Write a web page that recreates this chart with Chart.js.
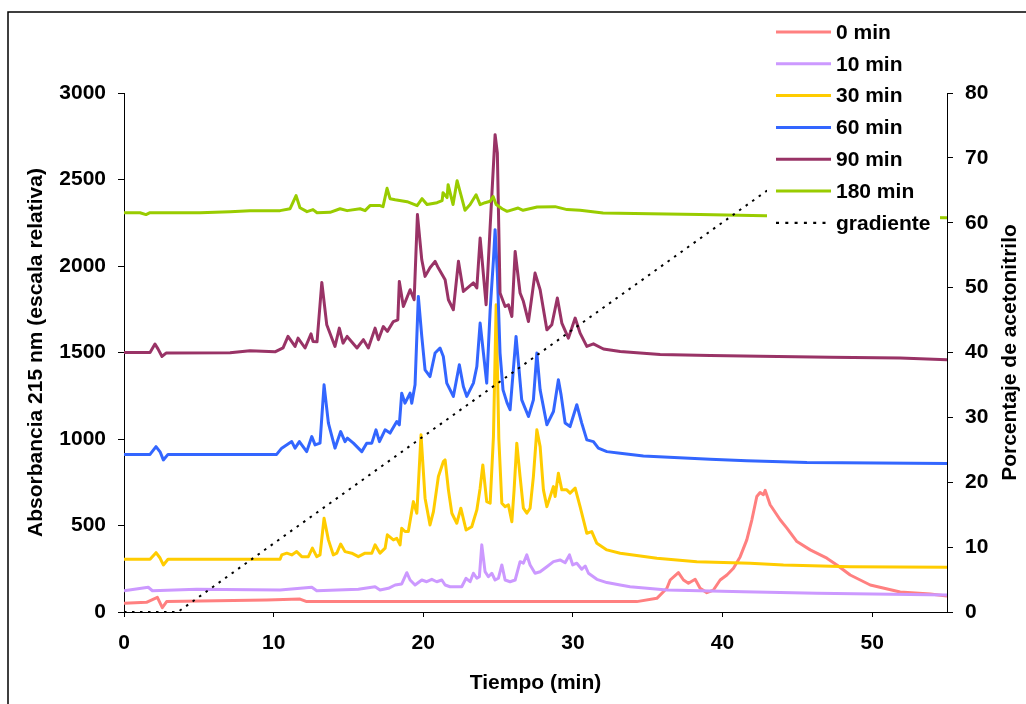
<!DOCTYPE html>
<html>
<head>
<meta charset="utf-8">
<script src="https://cdn.jsdelivr.net/npm/chart.js@4.4.0/dist/chart.umd.min.js"></script>
<style>
  html, body { margin: 0; padding: 0; background: #fff; }
  canvas { display: block; }
</style>
</head>
<body>
<canvas id="chart" width="1026" height="704"></canvas>
<script>
const FONT = "'Liberation Sans', Arial, Helvetica, sans-serif";

// ticks de los ejes
const xTicks = [0, 10, 20, 30, 40, 50];
const yTicks = [0, 500, 1000, 1500, 2000, 2500, 3000];
const y1Ticks = [0, 10, 20, 30, 40, 50, 60, 70, 80];

// 0 min
const t0 = [0, 1.5, 2.23, 2.56, 2.85, 9.54, 11.76, 12.21, 34.27, 35.61,
  36.28, 36.50, 37.05, 37.39, 37.72, 38.17, 38.50, 38.95, 39.39, 39.84,
  40.29, 40.73, 41.18, 41.62, 41.96, 42.29, 42.51, 42.73, 42.85, 43.18,
  43.85, 44.30, 44.97, 45.86, 46.97, 47.64, 48.53, 49.87, 51.87, 53.88, 55];
const y0 = [50, 56, 85, 25, 60, 70, 75, 60, 60, 79,
  137, 185, 228, 185, 166, 189, 137, 112, 127, 185,
  214, 253, 320, 417, 533, 668, 691, 678, 703, 620,
  533, 485, 407, 359, 311, 272, 214, 156, 116, 104, 93];

// 10 min
const t10 = [0, 1.62, 1.9, 4.86, 10.43, 12.55, 12.88, 15.66, 16.78, 17.11,
  17.67, 18.12, 18.56, 18.90, 19.12, 19.45, 19.90, 20.23, 20.57, 20.90,
  21.24, 21.46, 21.79, 22.57, 22.86, 23.13, 23.35, 23.58, 23.75, 23.91,
  24.13, 24.35, 24.58, 24.80, 25.02, 25.25, 25.47, 25.80, 26.14, 26.47,
  26.69, 26.92, 27.14, 27.47, 27.81, 28.26, 28.70, 29.14, 29.48, 29.77,
  29.99, 30.26, 30.59, 30.82, 31.04, 31.60, 32.27, 33.16, 33.82, 36.28,
  41.40, 46.30, 55];
const y10 = [123, 143, 123, 131, 127, 143, 123, 131, 146, 127,
  137, 156, 162, 227, 185, 156, 185, 175, 189, 175,
  185, 156, 146, 146, 195, 175, 224, 195, 204, 388,
  233, 204, 224, 185, 195, 272, 185, 175, 185, 291,
  282, 330, 272, 224, 233, 262, 291, 301, 285, 330,
  272, 282, 247, 266, 224, 189, 170, 156, 146, 127,
  117, 108, 98];

// 30 min
const t30 = [0, 1.74, 2.14, 2.41, 2.63, 2.94, 10.43, 10.54, 10.88, 11.21,
  11.54, 11.88, 12.32, 12.59, 12.88, 13.10, 13.37, 13.66, 13.99, 14.22,
  14.48, 14.77, 15.22, 15.66, 16.11, 16.56, 16.78, 17.11, 17.45, 17.60,
  18.00, 18.23, 18.45, 18.56, 18.78, 19.00, 19.34, 19.57, 19.85, 20.12,
  20.45, 20.68, 21.01, 21.34, 21.46, 21.68, 21.91, 22.24, 22.51, 22.86,
  23.24, 23.58, 23.80, 23.98, 24.24, 24.47, 24.69, 24.87, 25.05, 25.25,
  25.47, 25.69, 25.92, 26.07, 26.25, 26.47, 26.69, 26.92, 27.14, 27.36,
  27.59, 27.81, 28.03, 28.26, 28.48, 28.70, 28.81, 29.03, 29.26, 29.59,
  29.81, 30.15, 30.48, 30.93, 31.26, 31.60, 32.27, 33.16, 35.61, 38.28,
  41.84, 44.07, 48.53, 55];
const y30 = [305, 305, 343, 312, 272, 305, 305, 330, 340, 330,
  349, 320, 320, 369, 320, 330, 542, 417, 330, 340,
  393, 349, 340, 320, 340, 340, 388, 340, 369, 446,
  417, 426, 388, 484, 465, 465, 638, 571, 1024, 658,
  503, 580, 783, 869, 879, 706, 571, 513, 600, 474,
  493, 590, 716, 850, 638, 629, 1014, 1776, 1000, 629,
  609, 619, 522, 706, 976, 783, 600, 571, 600, 783,
  1053, 956, 706, 609, 667, 725, 667, 802, 706, 706,
  687, 716, 609, 455, 465, 397, 359, 340, 311, 291,
  282, 272, 262, 258];

// 60 min
const t60 = [0, 1.74, 2.14, 2.41, 2.63, 2.94, 7.09, 10.2, 10.54, 11.21, 11.43,
  11.72, 12.21, 12.55, 12.77, 13.10, 13.37, 13.66, 14.10, 14.48, 14.77,
  14.93, 15.33, 15.89, 16.22, 16.56, 16.84, 17.07, 17.45, 17.78, 18.23,
  18.40, 18.56, 18.78, 19.12, 19.23, 19.45, 19.67, 19.90, 20.12, 20.45,
  20.79, 21.12, 21.34, 21.57, 22.01, 22.41, 22.68, 22.91, 23.35, 23.58,
  23.80, 24.02, 24.24, 24.47, 24.69, 24.80, 24.95, 25.13, 25.33, 25.60,
  25.80, 26.20, 26.36, 26.58, 27.03, 27.36, 27.59, 27.81, 28.26, 28.70,
  29.03, 29.21, 29.48, 29.81, 30.26, 30.59, 30.93, 31.37, 31.70, 32.27,
  33.16, 34.71, 39.17, 41.62, 45.64, 55];
const y60 = [911, 911, 956, 926, 879, 911, 911, 911, 947, 985, 947,
  985, 927, 1014, 966, 976, 1313, 1092, 947, 1043, 985,
  1005, 976, 927, 976, 976, 1053, 985, 1053, 1034, 1101,
  1082, 1265, 1207, 1265, 1207, 1313, 1824, 1593, 1400, 1361,
  1497, 1526, 1477, 1323, 1246, 1429, 1303, 1246, 1323, 1419,
  1670, 1497, 1323, 1747, 2036, 2210, 1959, 1497, 1284, 1209,
  1169, 1593, 1439, 1226, 1130, 1226, 1497, 1284, 1082, 1159,
  1342, 1255, 1092, 1072, 1198, 1092, 995, 985, 947, 927,
  918, 902, 883, 874, 864, 859];

// 90 min
const t90 = [0, 1.74, 2.07, 2.27, 2.54, 2.81, 7.09, 8.42, 10.09, 10.63,
  10.96, 11.43, 11.63, 12.10, 12.50, 12.63, 12.90, 13.22, 13.55, 14.10,
  14.39, 14.64, 14.91, 15.57, 16.00, 16.33, 16.78, 17.00, 17.33, 17.60,
  18.00, 18.30, 18.40, 18.67, 19.12, 19.39, 19.61, 19.90, 20.12, 20.45,
  20.79, 21.01, 21.46, 21.68, 22.01, 22.35, 22.68, 23.35, 23.58, 23.80,
  24.20, 24.47, 24.80, 24.95, 25.13, 25.47, 25.69, 25.92, 26.14, 26.47,
  26.69, 27.03, 27.47, 27.81, 28.26, 28.59, 28.96, 29.26, 29.70, 30.15,
  30.48, 30.93, 31.37, 32.04, 33.16, 35.83, 39.17, 42.51, 47.19, 51.87, 55];
const y90 = [1500, 1500, 1549, 1521, 1477, 1497, 1498, 1510, 1504, 1527,
  1593, 1535, 1583, 1526, 1608, 1564, 1562, 1905, 1660, 1535,
  1641, 1554, 1593, 1526, 1574, 1526, 1641, 1574, 1650, 1622,
  1679, 1689, 1911, 1766, 1863, 1805, 2297, 2036, 1940, 1990,
  2027, 1988, 1921, 1805, 1747, 2027, 1853, 1902, 1873, 2162,
  1776, 2229, 2759, 2654, 1844, 1766, 1776, 1708, 2084, 1844,
  1796, 1679, 1959, 1863, 1631, 1660, 1815, 1670, 1583, 1699,
  1612, 1535, 1550, 1520, 1506, 1489, 1483, 1479, 1473, 1468, 1458];

// 180 min
const t180 = [0, 1.07, 1.47, 1.74, 5.08, 7.09, 8.42, 10.43, 11.10, 11.50,
  11.76, 12.23, 12.63, 12.90, 13.77, 14.44, 14.91, 15.78, 16.11, 16.44,
  17.11, 17.31, 17.58, 17.78, 18.12, 18.92, 19.59, 19.92, 20.25, 20.92,
  21.26, 21.32, 21.59, 21.66, 21.99, 22.26, 22.53, 22.79, 23.13, 23.53,
  23.80, 24.13, 24.47, 24.67, 24.87, 25.27, 25.60, 26.34, 26.67, 27.61,
  28.81, 29.61, 30.48, 32.02, 35.16, 38.50, 42.85, 55];
const y180 = [2308, 2308, 2297, 2308, 2308, 2314, 2320, 2320, 2331, 2407,
  2337, 2314, 2326, 2308, 2310, 2331, 2320, 2331, 2320, 2349,
  2349, 2343, 2449, 2389, 2383, 2372, 2349, 2389, 2355, 2366,
  2378, 2424, 2395, 2470, 2355, 2493, 2407, 2322, 2355, 2412,
  2355, 2366, 2374, 2401, 2355, 2331, 2316, 2335, 2322, 2341,
  2343, 2326, 2322, 2307, 2302, 2297, 2291, 2279];

// gradiente (% acetonitrilo, eje derecho)
const tGrad = [0, 3.6, 45];
const yGrad = [0, 0, 68.3];

const series = [
  { label: "0 min",   t: t0,   y: y0,   color: "#ff8080" },
  { label: "10 min",  t: t10,  y: y10,  color: "#cc99ff" },
  { label: "30 min",  t: t30,  y: y30,  color: "#ffcc00" },
  { label: "60 min",  t: t60,  y: y60,  color: "#3366ff" },
  { label: "90 min",  t: t90,  y: y90,  color: "#993366" },
  { label: "180 min", t: t180, y: y180, color: "#99cc00" },
];

const pts = (t, y) => t.map((v, i) => ({ x: v, y: y[i] }));

// el primero queda al fondo, como en el original
const datasets = series.map((s, i) => ({
  label: s.label,
  data: pts(s.t, s.y),
  borderColor: s.color,
  borderWidth: 3,
  pointRadius: 0,
  yAxisID: "y",
  order: 10 - i,
}));
datasets.push({
  label: "gradiente",
  data: pts(tGrad, yGrad),
  borderColor: "#000",
  borderWidth: 2,
  borderDash: [2.5, 5.5],
  pointRadius: 0,
  yAxisID: "y1",
  order: 0,
});

const tickFont = { family: FONT, size: 21, weight: "bold" };
const setTicks = arr => scale => { scale.ticks = arr.map(v => ({ value: v })); };
const plain = v => String(v);

const decor = {
  id: "decor",
  beforeDraw(chart) {
    const ctx = chart.ctx;
    ctx.save();
    ctx.fillStyle = "#fff";
    ctx.fillRect(0, 0, chart.width, chart.height);
    ctx.strokeStyle = "#000";
    ctx.lineWidth = 1.5;
    ctx.strokeRect(8, 12, 1200, 900);
    ctx.restore();
  },
  afterDatasetsDraw(chart) {
    const ctx = chart.ctx;
    ctx.save();
    // caja blanca de la leyenda, tapa las lineas
    ctx.fillStyle = "#fff";
    ctx.fillRect(767, 16, 173, 222);
    const items = series.map(s => ({ label: s.label, color: s.color, dash: [] }));
    items.push({ label: "gradiente", color: "#000", dash: [3, 6.3] });
    ctx.font = "bold 21px " + FONT;
    ctx.textBaseline = "middle";
    ctx.textAlign = "left";
    items.forEach((it, i) => {
      const y = 32 + i * 31.8;
      ctx.beginPath();
      ctx.setLineDash(it.dash);
      ctx.strokeStyle = it.color;
      ctx.lineWidth = it.dash.length ? 2.2 : 3;
      ctx.moveTo(776, y);
      ctx.lineTo(831, y);
      ctx.stroke();
      ctx.setLineDash([]);
      ctx.fillStyle = "#000";
      ctx.fillText(it.label, 836, y + 1);
    });
    ctx.restore();
  },
  afterDraw(chart) {
    const ctx = chart.ctx;
    const a = chart.chartArea;
    const midY = (a.top + a.bottom) / 2;
    ctx.save();
    ctx.fillStyle = "#000";
    ctx.font = "bold 21px " + FONT;
    ctx.textAlign = "center";
    ctx.textBaseline = "middle";
    ctx.fillText("Tiempo (min)", (a.left + a.right) / 2, 683);
    ctx.translate(36, midY);
    ctx.rotate(-Math.PI / 2);
    ctx.fillText("Absorbancia 215 nm (escala relativa)", 0, 0);
    ctx.restore();
    ctx.save();
    ctx.fillStyle = "#000";
    ctx.font = "bold 21px " + FONT;
    ctx.textAlign = "center";
    ctx.textBaseline = "middle";
    ctx.translate(1010, midY);
    ctx.rotate(-Math.PI / 2);
    ctx.fillText("Porcentaje de acetonitrilo", 0, 0);
    ctx.restore();
  },
};

new Chart(document.getElementById("chart"), {
  type: "line",
  data: { datasets },
  options: {
    responsive: false,
    animation: false,
    devicePixelRatio: 1,
    layout: { padding: { top: 93, left: 0, right: 0, bottom: 0 } },
    plugins: { legend: { display: false }, tooltip: { enabled: false } },
    elements: { line: { tension: 0, borderJoinStyle: "round" } },
    scales: {
      x: {
        type: "linear",
        min: 0,
        max: 55,
        afterBuildTicks: setTicks(xTicks),
        afterFit: s => { s.height = 92; },
        border: { color: "#000", width: 1 },
        grid: { drawOnChartArea: false, color: "#000", tickLength: 5 },
        ticks: { color: "#000", font: tickFont, padding: 14, maxRotation: 0, autoSkip: false, callback: plain },
      },
      y: {
        position: "left",
        min: 0,
        max: 3000,
        afterBuildTicks: setTicks(yTicks),
        afterFit: s => { s.width = 124; },
        border: { color: "#000", width: 1 },
        grid: { drawOnChartArea: false, color: "#000", tickLength: 6 },
        ticks: { color: "#000", font: tickFont, padding: 12, autoSkip: false, callback: plain },
      },
      y1: {
        position: "right",
        min: 0,
        max: 80,
        afterBuildTicks: setTicks(y1Ticks),
        afterFit: s => { s.width = 79; },
        border: { color: "#000", width: 1 },
        grid: { drawOnChartArea: false, color: "#000", tickLength: 6 },
        ticks: { color: "#000", font: tickFont, padding: 12, autoSkip: false, callback: plain },
      },
    },
  },
  plugins: [decor],
});
</script>
</body>
</html>
